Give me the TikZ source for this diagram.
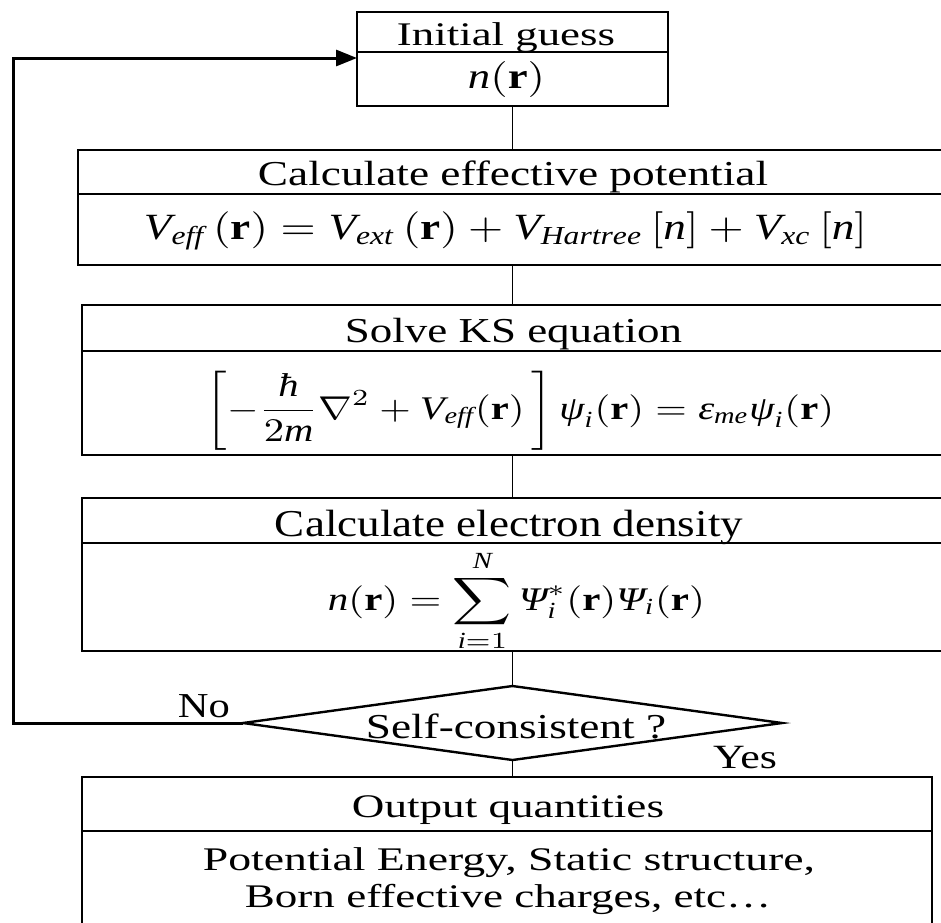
\documentclass[tikz,border=0pt]{standalone}
\usepackage{amsmath}
\usepackage{fontspec}
\setmainfont{Liberation Serif}
\usepackage{graphicx}
\usetikzlibrary{shapes.geometric,arrows.meta}
\newcommand\txt[3]{\resizebox{#2pt}{#1\height}{\fontsize{10}{12}\selectfont #3}}
\newcommand\gi[1]{\mbox{\itshape #1}}
\begin{document}
\begin{tikzpicture}[x=1pt,y=-1pt,
  row/.style={draw, line width=2.4pt, rectangle, inner sep=0pt, outer sep=0pt},
  lbl/.style={anchor=base, inner sep=0pt, outer sep=0pt},
  conn/.style={line width=1.8pt},
  back/.style={line width=3pt, -{Triangle[length=21pt,width=16pt]}}]
\useasboundingbox (0,0) rectangle (941,922);
\clip (0,0) rectangle (941,922);
\fill[white] (0,0) rectangle (941,922);
% boxes
\node[row, minimum width=311pt, minimum height=40pt] (b1t) at (512.5,32) {};
\node[row, minimum width=311pt, minimum height=54pt] (b1b) at (512.5,79) {};
\node[row, minimum width=882pt, minimum height=44pt] (b2t) at (519,172) {};
\node[row, minimum width=882pt, minimum height=71pt] (b2b) at (519,229.5) {};
\node[row, minimum width=878pt, minimum height=46pt] (b3t) at (521,328) {};
\node[row, minimum width=878pt, minimum height=104pt] (b3b) at (521,403) {};
\node[row, minimum width=878pt, minimum height=45pt] (b4t) at (521,520.5) {};
\node[row, minimum width=878pt, minimum height=108pt] (b4b) at (521,597) {};
\node[diamond, draw, line width=2.4pt, inner sep=0pt, outer sep=0pt, minimum width=539pt, minimum height=74pt] (dia) at (512.5,723) {};
\node[row, minimum width=850pt, minimum height=54pt] (b5t) at (507,804) {};
\node[row, minimum width=850pt, minimum height=130pt] (b5b) at (507,896) {};
% texts
\node[lbl] (t1) at (506,45) {\txt{3.3}{218}{Initial guess}};
\node[lbl] (m1) at (506.5,88) {\txt{3.6}{77}{$\mathit{n}(\mathbf{r})$}};
\node[lbl] (t2) at (513,185) {\txt{3.5}{510}{Calculate effective potential}};
\node[lbl] (m2) at (505.5,239) {\txt{3.7}{723}{$\mathit{V}_{\mathit{eff}}\,(\mathbf{r}) = \mathit{V}_{\mathit{ext}}\,(\mathbf{r}) + \mathit{V}_{\mathit{Hartree}}\,[\mathit{n}] + \mathit{V}_{\mathit{xc}}\,[\mathit{n}]$}};
\node[lbl] (t3) at (513.5,342) {\txt{3.5}{337}{Solve KS equation}};
\node[lbl] (m3) at (520,419) {\txt{3.3}{628}{$\displaystyle\left[-\frac{\gi{ħ}}{2\mathit{m}}\nabla^{2}+\mathit{V}_{\mathit{eff}}(\mathbf{r})\,\right]\gi{ψ}_{\mathit{i}}(\mathbf{r})=\gi{ε}_{\mathit{me}}\gi{ψ}_{\mathit{i}}(\mathbf{r})$}};
\node[lbl] (t4) at (509,536) {\txt{3.8}{468}{Calculate electron density}};
\node[lbl] (m4) at (516.5,610) {\txt{3.3}{377}{$\displaystyle \mathit{n}(\mathbf{r})=\sum_{\mathit{i}=1}^{\mathit{N}}\gi{Ψ}_{\mathit{i}}^{*}(\mathbf{r})\gi{Ψ}_{\mathit{i}}(\mathbf{r})$}};
\node[lbl] (t5) at (516,738) {\txt{3.5}{300}{Self-consistent ?}};
\node[lbl] (no) at (204,717) {\txt{3.5}{52}{No}};
\node[lbl] (yes) at (745,768) {\txt{3.4}{64}{Yes}};
\node[lbl] (t6) at (508,817) {\txt{3.3}{312}{Output quantities}};
\node[lbl] (t7) at (509,870) {\txt{3.3}{612}{Potential Energy, Static structure,}};
\node[lbl] (t8) at (508,907) {\txt{3.3}{526}{Born effective charges, etc…}};
% connectors
\draw[conn] (b1b.south) -- (b1b.south |- b2t.north);
\draw[conn] (b2b.south -| b1b.south) -- (b3t.north -| b1b.south);
\draw[conn] (b3b.south -| b1b.south) -- (b4t.north -| b1b.south);
\draw[conn] (b4b.south -| b1b.south) -- (dia.north);
\draw[conn] (dia.south) -- (dia.south |- b5t.north);
\coordinate (lp1) at (13,723);
\coordinate (lp2) at (13,58);
\draw[back] (dia.west) -- (lp1) -- (lp2) -- (lp2 -| b1b.west);
\end{tikzpicture}
\end{document}
